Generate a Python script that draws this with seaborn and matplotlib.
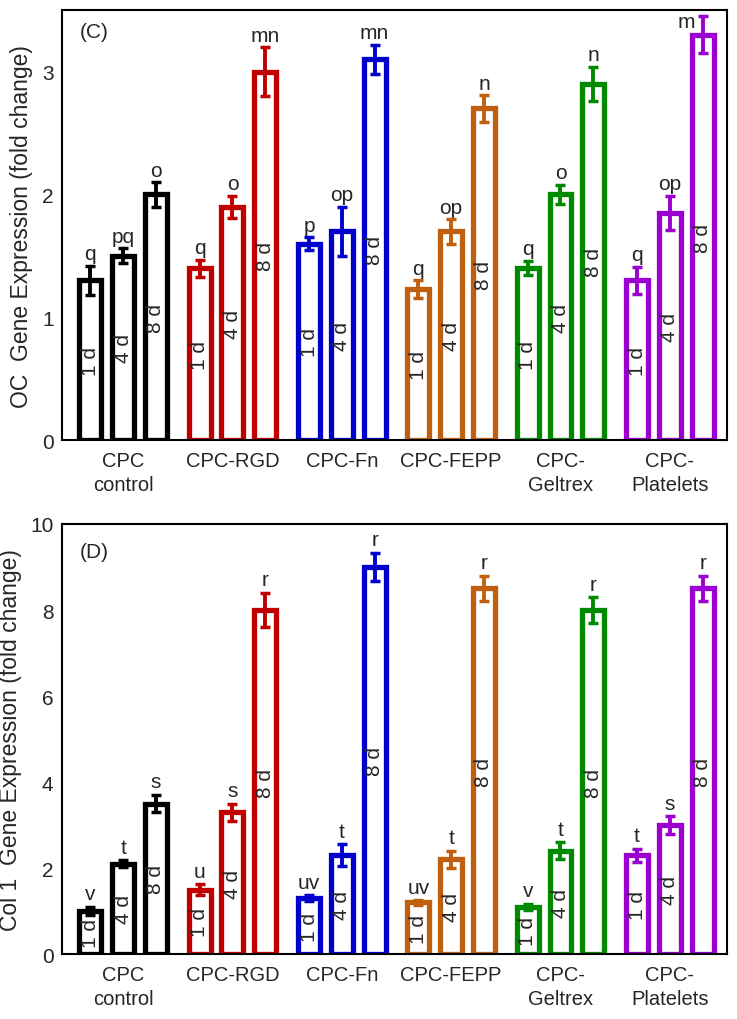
import numpy as np
import pandas as pd
import seaborn as sns
import matplotlib.pyplot as plt

# groups, days and colours
groups = ["CPC\ncontrol", "CPC-RGD", "CPC-Fn", "CPC-FEPP", "CPC-\nGeltrex", "CPC-\nPlatelets"]
days = ["1 d", "4 d", "8 d"]
colors = ["#000000", "#C00000", "#0000CC", "#C0600F", "#008A00", "#9B00D0"]

# OC gene expression (panel C), rows = groups, cols = days
oc_mean = [[1.30, 1.50, 2.00],
           [1.40, 1.90, 3.00],
           [1.60, 1.70, 3.10],
           [1.23, 1.70, 2.70],
           [1.40, 2.00, 2.90],
           [1.30, 1.85, 3.30]]
oc_err = [[0.12, 0.06, 0.10],
          [0.07, 0.09, 0.20],
          [0.05, 0.20, 0.12],
          [0.07, 0.10, 0.11],
          [0.06, 0.08, 0.14],
          [0.11, 0.14, 0.15]]
oc_letters = [["q", "pq", "o"],
              ["q", "o", "mn"],
              ["p", "op", "mn"],
              ["q", "op", "n"],
              ["q", "o", "n"],
              ["q", "op", "m"]]

# Col 1 gene expression (panel D)
col_mean = [[1.00, 2.10, 3.50],
            [1.50, 3.30, 8.00],
            [1.30, 2.30, 9.00],
            [1.20, 2.20, 8.50],
            [1.10, 2.40, 8.00],
            [2.30, 3.00, 8.50]]
col_err = [[0.10, 0.08, 0.20],
           [0.12, 0.20, 0.40],
           [0.07, 0.25, 0.33],
           [0.05, 0.20, 0.30],
           [0.07, 0.20, 0.30],
           [0.15, 0.20, 0.30]]
col_letters = [["v", "t", "s"],
               ["u", "s", "r"],
               ["uv", "t", "r"],
               ["uv", "t", "r"],
               ["v", "t", "r"],
               ["t", "s", "r"]]


def panel(ax, mean, err, letters, ylabel, tag, tag_y, yticks, ymax, lab_off):
    rows = []
    for gi, g in enumerate(groups):
        for di, d in enumerate(days):
            rows.append({"group": g, "day": d, "value": mean[gi][di]})
    df = pd.DataFrame(rows)
    sns.barplot(data=df, x="group", y="value", hue="day", order=groups,
                hue_order=days, width=0.9, gap=0.33, errorbar=None,
                legend=False, ax=ax)
    bar_sets = list(ax.containers)
    for di, cont in enumerate(bar_sets):
        for gi, bar in enumerate(cont):
            c = colors[gi]
            bar.set_facecolor("white")
            bar.set_edgecolor(c)
            bar.set_linewidth(3.8)
            xc = bar.get_x() + bar.get_width() / 2
            v = mean[gi][di]
            e = err[gi][di]
            ax.errorbar(xc, v, yerr=e, color=c, elinewidth=2.8, capsize=3.5,
                        capthick=2.5, zorder=5)
            ly = v + e + lab_off
            if ly > ymax * 0.95:
                # no room above: put the letter beside the error bar
                ax.text(xc - 0.07, v + e - 0.012 * ymax, letters[gi][di],
                        ha="right", va="center", fontsize=15)
            else:
                ax.text(xc, ly, letters[gi][di], ha="center",
                        va="bottom", fontsize=15)
            ax.text(xc, v / 2, days[di], ha="center", va="center",
                    rotation=90, fontsize=15)
    ax.set_xlim(-0.56, 5.52)
    ax.set_ylim(0, ymax)
    ax.set_yticks(yticks)
    ax.set_xlabel("")
    ax.set_ylabel(ylabel, fontsize=16.5, labelpad=6)
    ax.tick_params(axis="y", direction="in", length=4, labelsize=15, pad=6)
    ax.tick_params(axis="x", length=0, labelsize=14.5, pad=8)
    for lab in ax.get_xticklabels():
        lab.set_linespacing(1.35)
    for s in ax.spines.values():
        s.set_linewidth(1.5)
        s.set_color("black")
    ax.text(0.027, tag_y, tag, transform=ax.transAxes, fontsize=15, va="center")


sns.set_style("white")
plt.rcParams['font.family'] = ['Liberation Sans', 'DejaVu Sans']

fig = plt.figure(figsize=(7.37, 10.2), dpi=100)
ax1 = fig.add_axes([0.084, 0.5676, 0.902, 0.4214])
ax2 = fig.add_axes([0.084, 0.0637, 0.902, 0.4216])

panel(ax1, oc_mean, oc_err, oc_letters, "OC  Gene Expression (fold change)",
      "(C)", 0.95, [0, 1, 2, 3], 3.5, 0.02)
panel(ax2, col_mean, col_err, col_letters, "Col 1  Gene Expression (fold change)",
      "(D)", 0.937, [0, 2, 4, 6, 8, 10], 10, 0.08)

fig.savefig("out.png", dpi=100)
